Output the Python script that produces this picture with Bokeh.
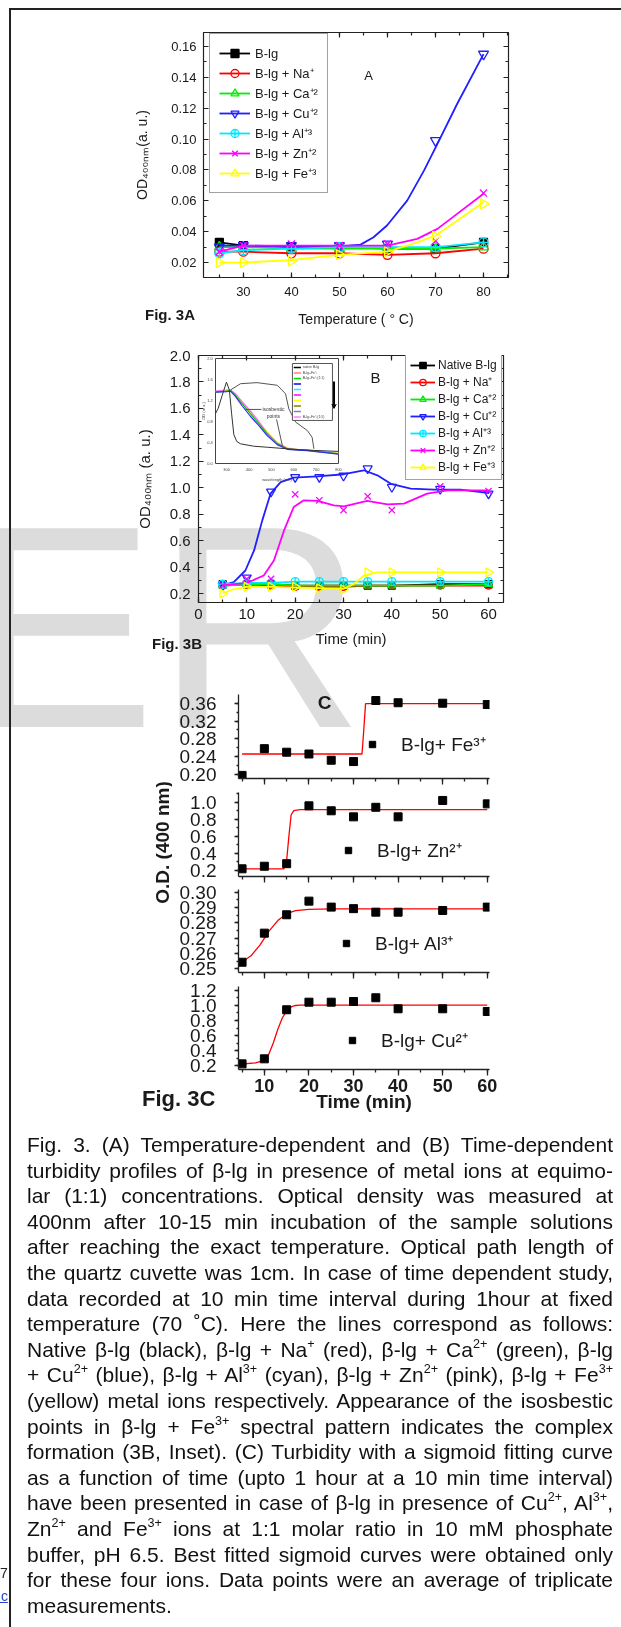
import numpy as np
from bokeh.plotting import figure
from bokeh.models import (Range1d, LinearAxis, Legend, LegendItem, Label, Div,
                          SingleIntervalTicker, NumeralTickFormatter, Arrow, VeeHead)
from bokeh.layouts import column, row
from bokeh.embed import file_html
from bokeh.resources import INLINE
from bokeh.core.properties import value

FONT = "Liberation Sans"
TXT = "#1a1a1a"

# ---------------- Fig. 3A data (temperature, OD) ----------------
temp_c = [25, 30, 40, 50, 60, 70, 80]
a_blg = [0.033, 0.031, 0.030, 0.030, 0.029, 0.029, 0.033]
a_na = [0.027, 0.027, 0.026, 0.026, 0.025, 0.026, 0.029]
a_ca = [0.030, 0.030, 0.029, 0.029, 0.029, 0.029, 0.030]
a_cu = [0.030, 0.031, 0.031, 0.031, 0.032, 0.099, 0.155]
a_al = [0.026, 0.028, 0.029, 0.030, 0.030, 0.030, 0.033]
a_zn = [0.027, 0.031, 0.032, 0.031, 0.032, 0.034, 0.065]
a_fe = [0.020, 0.020, 0.021, 0.025, 0.027, 0.037, 0.058]
# drawn (smoothed) lines
a_cu_line_t = [25, 30, 40, 50, 54.4, 57.1, 59.9, 64.1, 67.6, 70.4, 74.5, 80]
a_cu_line_v = [0.031, 0.031, 0.0304, 0.0304, 0.0316, 0.0364, 0.044, 0.0601, 0.0795, 0.0968, 0.1227, 0.155]
a_zn_line_t = [25, 30, 40, 50, 60, 66.2, 70.4, 74.5, 80]
a_zn_line_v = [0.027, 0.031, 0.031, 0.031, 0.031, 0.0353, 0.0418, 0.0515, 0.0645]
a_fe_line_t = [25, 30, 40, 50, 60, 66.2, 70, 74.5, 80]
a_fe_line_v = [0.020, 0.020, 0.0215, 0.025, 0.027, 0.033, 0.0375, 0.047, 0.059]

# ---------------- Fig. 3B data (time, OD) ----------------
time_min = [5, 10, 15, 20, 25, 30, 35, 40, 50, 60]
b_native = [0.27, 0.27, 0.27, 0.26, 0.26, 0.26, 0.26, 0.26, 0.27, 0.27]
b_na = [0.26, 0.27, 0.26, 0.25, 0.25, 0.25, 0.26, 0.26, 0.26, 0.26]
b_ca = [0.26, 0.27, 0.27, 0.26, 0.26, 0.26, 0.26, 0.26, 0.26, 0.27]
b_cu = [0.26, 0.32, 0.97, 1.08, 1.08, 1.09, 1.145, 1.005, 0.99, 0.955]
b_al = [0.27, 0.28, 0.28, 0.29, 0.29, 0.29, 0.29, 0.29, 0.29, 0.29]
b_zn = [0.26, 0.31, 0.31, 0.95, 0.905, 0.83, 0.935, 0.83, 1.01, 0.975]
b_fe = [0.20, 0.25, 0.25, 0.25, 0.24, 0.23, 0.36, 0.36, 0.36, 0.36]
b_cu_line_t = [4.9, 7.3, 9.7, 11.5, 13.2, 14.9, 17.0, 19.7, 24.6, 30.1, 34.2, 37.0, 39.8, 43.9, 48.7, 54.2, 60.1]
b_cu_line_v = [0.261, 0.286, 0.374, 0.526, 0.753, 0.955, 1.043, 1.076, 1.086, 1.102, 1.132, 1.094, 1.03, 0.993, 0.986, 0.986, 0.96]
b_zn_line_t = [4.9, 10.1, 13.5, 15.6, 17.7, 19.7, 21.8, 24.6, 28.0, 30.1, 34.9, 39.1, 42.5, 47.3, 51.5, 60.1]
b_zn_line_v = [0.261, 0.281, 0.336, 0.45, 0.677, 0.854, 0.905, 0.9, 0.867, 0.859, 0.9, 0.874, 0.88, 0.955, 0.98, 0.98]
b_fe_line_t = [5, 7, 10, 15, 20, 25, 30, 32.2, 34.2, 37, 40, 50, 60]
b_fe_line_v = [0.20, 0.23, 0.25, 0.25, 0.245, 0.24, 0.236, 0.273, 0.336, 0.36, 0.36, 0.36, 0.36]

# ---------------- Fig. 3B inset (wavelength, absorbance) ----------------
ins_wl = [250, 300, 317, 339, 369, 406, 444, 481, 526, 571, 620, 660, 720, 800]
ins_green = [1.36, 1.38, 1.39, 1.30, 1.14, 0.95, 0.76, 0.56, 0.375, 0.28, 0.26, 0.25, 0.22, 0.185]
ins_blue = [1.36, 1.37, 1.38, 1.28, 1.10, 0.90, 0.72, 0.53, 0.36, 0.27, 0.255, 0.245, 0.215, 0.18]
ins_pink = [1.38, 1.40, 1.40, 1.33, 1.18, 1.00, 0.80, 0.58, 0.39, 0.29, 0.265, 0.255, 0.225, 0.19]
ins_yellow = [1.37, 1.39, 1.39, 1.31, 1.15, 0.97, 0.78, 0.60, 0.40, 0.30, 0.27, 0.26, 0.23, 0.20]
ins_native_wl = [250, 262, 280, 299, 312, 322, 332, 345, 362, 420, 481, 600, 688, 800]
ins_native = [0.95, 1.05, 1.30, 1.55, 1.40, 0.95, 0.55, 0.42, 0.375, 0.33, 0.31, 0.27, 0.25, 0.23]
ins_hump_wl = [317, 362, 436, 526, 563, 578, 608, 660, 682, 690]
ins_hump = [1.40, 1.52, 1.54, 1.49, 1.33, 1.04, 0.79, 0.63, 0.50, 0.28]
ins_xticks = [300, 400, 500, 600, 700, 800]
ins_yticks = [0.0, 0.4, 0.8, 1.2, 1.6, 2.0]
ins_leg_colors = ["#000000", "#ff8080", "#00dd00", "#0000ff", "#00ffff", "#ff00ff",
                  "#ffff00", "#808000", "#8080c0", "#ff80ff"]
ins_leg_labels = ["native B-lg", "B-lg+Fe⁺³", "B-lg+Fe⁺³(1:1)", "", "", "", "", "", "", "B-lg+Fe⁺³(1:5)"]

# ---------------- Fig. 3C data ----------------
c_time = [5, 10, 15, 20, 25, 30, 35, 40, 50, 60]
c_fe = [0.198, 0.258, 0.250, 0.246, 0.232, 0.229, 0.366, 0.361, 0.360, 0.357]
c_zn = [0.22, 0.25, 0.28, 0.957, 0.899, 0.828, 0.94, 0.828, 1.02, 0.98]
c_al = [0.2543, 0.2733, 0.2853, 0.2942, 0.2903, 0.2893, 0.2870, 0.2870, 0.2881, 0.2903]
c_cu = [0.222, 0.289, 0.943, 1.044, 1.044, 1.053, 1.103, 0.956, 0.956, 0.92]
# sigmoid fit curves
fe_fit_t = [5, 31.9, 32.3, 32.7, 60]
fe_fit_v = [0.246, 0.246, 0.30, 0.359, 0.359]
zn_fit_t = [5, 14.4, 15.0, 15.5, 16.0, 16.6, 18.0, 60]
zn_fit_v = [0.22, 0.22, 0.32, 0.6, 0.85, 0.9, 0.912, 0.912]
al_fit_t = [5, 7, 9, 11, 13, 15, 17, 20, 25, 60]
al_fit_v = [0.2545, 0.2585, 0.2655, 0.2745, 0.2815, 0.2860, 0.2880, 0.2888, 0.2891, 0.2892]
cu_fit_t = [5, 8, 10, 11, 12, 13, 14, 15, 16, 17, 18, 60]
cu_fit_v = [0.22, 0.235, 0.27, 0.35, 0.5, 0.68, 0.83, 0.93, 0.98, 1.0, 1.005, 1.005]

caption_lines = [
    "Fig. 3. (A) Temperature-dependent and (B) Time-dependent",
    "turbidity profiles of β-lg in presence of metal ions at equimo-",
    "lar (1:1) concentrations. Optical density was measured at",
    "400nm after 10-15 min incubation of the sample solutions",
    "after reaching the exact temperature. Optical path length of",
    "the quartz cuvette was 1cm. In case of time dependent study,",
    "data recorded at 10 min time interval during 1hour at fixed",
    "temperature (70 ˚C). Here the lines correspond as follows:",
    "Native β-lg (black), β-lg + Na<sup>+</sup> (red), β-lg + Ca<sup>2+</sup> (green), β-lg",
    "+ Cu<sup>2+</sup> (blue), β-lg + Al<sup>3+</sup> (cyan), β-lg + Zn<sup>2+</sup> (pink), β-lg + Fe<sup>3+</sup>",
    "(yellow) metal ions respectively. Appearance of the isosbestic",
    "points in β-lg + Fe<sup>3+</sup> spectral pattern indicates the complex",
    "formation (3B, Inset). (C) Turbidity with a sigmoid fitting curve",
    "as a function of time (upto 1 hour at a 10 min time interval)",
    "have been presented in case of β-lg in presence of Cu<sup>2+</sup>, Al<sup>3+</sup>,",
    "Zn<sup>2+</sup> and Fe<sup>3+</sup> ions at 1:1 molar ratio in 10 mM phosphate",
    "buffer, pH 6.5. Best fitted sigmoid curves were obtained only",
    "for these four ions. Data points were an average of triplicate",
    "measurements.",
]

COL = dict(blg="#000000", na="#ff0000", ca="#00ee00", cu="#2020ff",
           al="#00e8ff", zn="#ff00ff", fe="#ffff00")


# ---------------- helpers ----------------
def make_fig(w, h, xr, yr, ml, mr, mt, mb, axes=True):
    kw = {}
    if not axes:
        kw = dict(x_axis_location=None, y_axis_location=None)
    p = figure(width=w, height=h, x_range=Range1d(*xr), y_range=Range1d(*yr),
               output_backend="svg", toolbar_location=None,
               min_border_left=ml, min_border_right=mr, min_border_top=mt,
               min_border_bottom=mb, **kw)
    p.grid.visible = False
    p.background_fill_alpha = 0
    p.border_fill_alpha = 0
    if "frame_align" in p.properties():
        p.frame_align = False
    return p


def style_ax(ax, size, standoff, t_in, t_out, m_in, m_out, bold=False, lw=1.2):
    ax.major_label_text_font = FONT
    ax.major_label_text_font_size = f"{size}px"
    ax.major_label_text_font_style = "bold" if bold else "normal"
    ax.major_label_text_color = TXT
    ax.major_label_standoff = standoff
    ax.major_tick_in = t_in
    ax.major_tick_out = t_out
    ax.minor_tick_in = m_in
    ax.minor_tick_out = m_out
    for a in ("axis_line", "major_tick_line", "minor_tick_line"):
        setattr(ax, a + "_color", "#222222")
        setattr(ax, a + "_width", lw)
    ax.axis_label_text_font = FONT
    ax.axis_label_text_font_style = "normal"
    ax.axis_label_text_color = TXT


def add_label(p, FL, FB, px, py, text, size, bold=False, align="left",
              baseline="middle", angle=0.0, color=TXT):
    p.add_layout(Label(x=px - FL, y=FB - py, x_units="screen", y_units="screen",
                       text=text, text_font=FONT, text_font_size=f"{size}px",
                       text_font_style="bold" if bold else "normal",
                       text_align=align, text_baseline=baseline, angle=angle,
                       text_color=color))


def series(p, x, y, lx, ly, color, marker, size, lw=1.8, angle=0.0):
    ln = p.line(lx, ly, line_color=color, line_width=lw)
    filled = marker == "square"
    sc = p.scatter(x, y, marker=marker, size=size, line_color=color,
                   fill_color="black" if filled else "white", fill_alpha=1 if filled else 0,
                   line_width=1.3, angle=angle)
    return [ln, sc]


def box_axes(p, xint, yint, size):
    for loc, tick in (("above", xint), ("right", yint)):
        ax = LinearAxis(ticker=SingleIntervalTicker(interval=tick, num_minor_ticks=2))
        style_ax(ax, size, 2, 5, 0, 3, 0)
        ax.major_label_text_color = None
        p.add_layout(ax, loc)


PAGE_W = 621   # layout starts at the page's top-left corner

# ================= Fig. 3A =================
A_FL, A_FR, A_FT, A_FB = 203, 508, 32, 277
pa = make_fig(PAGE_W, 330, (21.7, 85.2), (0.0103, 0.169),
              A_FL, PAGE_W - A_FR, A_FT, 330 - A_FB)
pa.outline_line_color = "#222222"
pa.xaxis.ticker = SingleIntervalTicker(interval=10, num_minor_ticks=2)
pa.yaxis.ticker = SingleIntervalTicker(interval=0.02, num_minor_ticks=2)
pa.yaxis.formatter = NumeralTickFormatter(format="0.00")
style_ax(pa.xaxis[0], 13, 9, 5, 0, 3, 0)
style_ax(pa.yaxis[0], 13, 7, 5, 0, 3, 0)
pa.xaxis.axis_label = "Temperature ( ° C)"
pa.xaxis.axis_label_text_font_size = "14px"
pa.xaxis.axis_label_standoff = 12
pa.yaxis.axis_label = "OD₄₀₀ₙₘ(a. u.)"
pa.yaxis.axis_label_text_font_size = "14px"
pa.yaxis.axis_label_standoff = 18
box_axes(pa, 10, 0.02, 9)

ra = []
ra.append(("B-lg", series(pa, temp_c, a_blg, temp_c, a_blg, COL["blg"], "square", 8)))
ra.append(("B-lg + Na⁺", series(pa, temp_c, a_na, temp_c, a_na, COL["na"], "circle", 9)))
ra.append(("B-lg + Ca⁺²", series(pa, temp_c, a_ca, temp_c, a_ca, COL["ca"], "triangle", 10)))
ra.append(("B-lg + Cu⁺²", series(pa, temp_c, a_cu, a_cu_line_t, a_cu_line_v, COL["cu"], "inverted_triangle", 10)))
ra.append(("B-lg + Al⁺³", series(pa, temp_c, a_al, temp_c, a_al, COL["al"], "circle_cross", 9)))
ra.append(("B-lg + Zn⁺²", series(pa, temp_c, a_zn, a_zn_line_t, a_zn_line_v, COL["zn"], "x", 10)))
ra.append(("B-lg + Fe⁺³", series(pa, temp_c, a_fe, a_fe_line_t, a_fe_line_v, COL["fe"], "triangle", 10, angle=-np.pi / 2)))
leg_a = Legend(items=[LegendItem(label=l, renderers=r) for l, r in ra], location=(6, 84),
               label_text_font=FONT, label_text_font_size="13px", label_text_color=TXT,
               glyph_width=31, glyph_height=20, label_height=20, label_standoff=5,
               padding=9, spacing=0, margin=0, border_line_color="#444444",
               border_line_width=1.5, background_fill_color="white", background_fill_alpha=1)
pa.add_layout(leg_a)
add_label(pa, A_FL, A_FB, 368, 75, "A", 13, align="center")

# ================= Fig. 3B =================
B_TOP = 330
B_FL, B_FR, B_FT, B_FB = 198, 503, 355, 602
pb = make_fig(PAGE_W, 325, (0, 63.1), (0.132, 2.0),
              B_FL, PAGE_W - B_FR, B_FT - B_TOP, B_TOP + 325 - B_FB)
pb.outline_line_color = "#222222"
pb.xaxis.ticker = SingleIntervalTicker(interval=10, num_minor_ticks=2)
pb.yaxis.ticker = SingleIntervalTicker(interval=0.2, num_minor_ticks=2)
pb.yaxis.formatter = NumeralTickFormatter(format="0.0")
style_ax(pb.xaxis[0], 15, 6, 5, 0, 3, 0)
style_ax(pb.yaxis[0], 15, 8, 5, 0, 3, 0)
pb.xaxis.axis_label = "Time (min)"
pb.xaxis.axis_label_text_font_size = "15px"
pb.xaxis.axis_label_standoff = 8
pb.yaxis.axis_label = "OD₄₀₀ₙₘ (a. u.)"
pb.yaxis.axis_label_text_font_size = "15px"
pb.yaxis.axis_label_standoff = 14
box_axes(pb, 10, 0.2, 9)

rb = []
rb.append(("Native B-lg", series(pb, time_min, b_native, time_min, b_native, COL["blg"], "square", 7)))
rb.append(("B-lg + Na⁺", series(pb, time_min, b_na, time_min, b_na, COL["na"], "circle", 7)))
rb.append(("B-lg + Ca⁺²", series(pb, time_min, b_ca, time_min, b_ca, COL["ca"], "triangle", 8)))
rb.append(("B-lg + Cu⁺²", series(pb, time_min, b_cu, b_cu_line_t, b_cu_line_v, COL["cu"], "inverted_triangle", 9)))
rb.append(("B-lg + Al⁺³", series(pb, time_min, b_al, time_min, b_al, COL["al"], "circle_cross", 8)))
rb.append(("B-lg + Zn⁺²", series(pb, time_min, b_zn, b_zn_line_t, b_zn_line_v, COL["zn"], "x", 9)))
rb.append(("B-lg + Fe⁺³", series(pb, time_min, b_fe, b_fe_line_t, b_fe_line_v, COL["fe"], "triangle", 9, angle=-np.pi / 2)))
leg_b = Legend(items=[LegendItem(label=l, renderers=r) for l, r in rb], location=(207, 122),
               label_text_font=FONT, label_text_font_size="12px", label_text_color=TXT,
               glyph_width=25, glyph_height=16, label_height=16, label_standoff=3,
               padding=4, spacing=0, margin=0, border_line_color="#444444",
               border_line_width=1.5, background_fill_color="white", background_fill_alpha=1)
pb.add_layout(leg_b)
add_label(pb, B_FL, B_FB, 375, 377, "B", 15, align="center")

# ---- inset (own ranges mapped onto the inset box) ----
ins_px = dict(l=215, r=338, t=358, b=463)
ins_x = (250, 800)
ins_y = (0.0, 2.0)
sx = (ins_x[1] - ins_x[0]) / (ins_px["r"] - ins_px["l"])
sy = (ins_y[1] - ins_y[0]) / (ins_px["b"] - ins_px["t"])
pb.extra_x_ranges = {"ix": Range1d(ins_x[0] - (ins_px["l"] - B_FL) * sx,
                                   ins_x[1] + (B_FR - ins_px["r"]) * sx)}
pb.extra_y_ranges = {"iy": Range1d(ins_y[0] - (B_FB - ins_px["b"]) * sy,
                                   ins_y[1] + (ins_px["t"] - B_FT) * sy)}
IR = dict(x_range_name="ix", y_range_name="iy")
pb.quad(left=[ins_x[0]], right=[ins_x[1]], bottom=[ins_y[0]], top=[ins_y[1]],
        fill_color="white", line_color="#444444", line_width=1, **IR)
for ys, c in ((ins_yellow, "#ffee00"), (ins_pink, "#ff66ff"), (ins_green, "#00cc00"), (ins_blue, "#3030ff")):
    pb.line(ins_wl, ys, line_color=c, line_width=1.2, **IR)
pb.line(ins_native_wl, ins_native, line_color="#333333", line_width=1, **IR)
pb.line(ins_hump_wl, ins_hump, line_color="#555555", line_width=1, **IR)
pb.segment(x0=[380, 523], y0=[1.03, 0.84], x1=[455, 550], y1=[1.03, 0.32],
           line_color="#555555", line_width=1, **IR)
pb.text(x=[509, 509], y=[1.03, 0.90], text=["isosbestic", "points"],
        text_font=value(FONT), text_font_size="5px", text_align="center",
        text_baseline="middle", text_color="#333333", **IR)
pb.text(x=ins_xticks, y=[-0.12] * len(ins_xticks), text=[str(v) for v in ins_xticks],
        text_font=value(FONT), text_font_size="4px", text_align="center",
        text_baseline="middle", text_color="#444444", **IR)
pb.text(x=[238] * len(ins_yticks), y=ins_yticks, text=[f"{v:.1f}" for v in ins_yticks],
        text_font=value(FONT), text_font_size="4px", text_align="right",
        text_baseline="middle", text_color="#444444", **IR)
pb.text(x=[525], y=[-0.3], text=["wavelength (nm)"], text_font=value(FONT),
        text_font_size="4px", text_align="center", text_baseline="middle",
        text_color="#444444", **IR)
pb.text(x=[195], y=[1.0], text=["OD (a. u.)"], angle=[np.pi / 2], text_font=value(FONT),
        text_font_size="4px", text_align="center", text_baseline="middle",
        text_color="#444444", **IR)
pb.quad(left=[594], right=[773], bottom=[0.82], top=[1.905], fill_color="white",
        line_color="#555555", line_width=1, **IR)
leg_y = [1.83 - i * 0.105 for i in range(len(ins_leg_colors))]
pb.segment(x0=[600] * len(leg_y), y0=leg_y, x1=[632] * len(leg_y), y1=leg_y,
           line_color=ins_leg_colors, line_width=1.5, **IR)
pb.text(x=[640] * len(leg_y), y=leg_y, text=ins_leg_labels, text_font=value(FONT),
        text_font_size="3.5px", text_baseline="middle", text_color="#444444", **IR)
pb.add_layout(Arrow(end=VeeHead(size=4, fill_color="black", line_color="black"),
                    x_start=780, y_start=1.56, x_end=780, y_end=1.05,
                    line_color="black", line_width=2, **IR))


# ================= Fig. 3C =================
def c_fig(w, h, ml, mt, mb, yr, yint, fmt, last=False):
    p = make_fig(w, h, (4.2, 60.5), yr, ml, 132, mt, mb)
    p.outline_line_color = None
    p.xaxis.ticker = SingleIntervalTicker(interval=10, num_minor_ticks=2)
    p.yaxis.ticker = SingleIntervalTicker(interval=yint, num_minor_ticks=2)
    p.yaxis.formatter = NumeralTickFormatter(format=fmt)
    style_ax(p.yaxis[0], 19, 18, 0, 4, 0, 2, lw=1.3)
    style_ax(p.xaxis[0], 18, 3, 0, 6, 0, 3, bold=True, lw=1.3)
    if not last:
        p.xaxis.major_label_text_font_size = "1px"
        p.xaxis.major_label_text_color = None
        p.xaxis.major_label_standoff = 0
    return p


def c_series(p, y, ft, fv, label, loc):
    p.line(ft, fv, line_color="#ff0000", line_width=1.3)
    sc = p.scatter(c_time, y, marker="square", size=8, fill_color="black", line_color="black")
    leg = Legend(items=[LegendItem(label=label, renderers=[sc])], location=loc,
                 label_text_font=FONT, label_text_font_size="19px", label_text_color=TXT,
                 glyph_width=16, glyph_height=16, label_height=20, label_standoff=21,
                 padding=0, spacing=0, margin=0, border_line_color=None,
                 background_fill_alpha=0)
    p.add_layout(leg)


C_FL = 238
C_SPLIT = 172
CW = PAGE_W - C_SPLIT
c1 = c_fig(CW, 133, C_FL - C_SPLIT, 39, 10, (0.191, 0.3795), 0.04, "0.00")
c_series(c1, c_fe, fe_fit_t, fe_fit_v, "B-lg+ Fe³⁺", (126, 21))
add_label(c1, C_FL, 778, 324, 702, "C", 19, bold=True, align="center")

c2 = c_fig(CW, 97, C_FL - C_SPLIT, 4, 9, (0.13, 1.113), 0.2, "0.0")
c_series(c2, c_zn, zn_fit_t, zn_fit_v, "B-lg+ Zn²⁺", (102, 13))

c3 = c_fig(CW, 97, C_FL - C_SPLIT, 4, 10, (0.2476, 0.3018), 0.01, "0.00")
c_series(c3, c_al, al_fit_t, al_fit_v, "B-lg+ Al³⁺", (100, 16))

c4 = c_fig(PAGE_W, 133, C_FL, 4, 46, (0.147, 1.253), 0.2, "0.0", last=True)
c_series(c4, c_cu, cu_fit_t, cu_fit_v, "B-lg+ Cu²⁺", (106, 16))
c4.xaxis.axis_label = "Time (min)"
c4.xaxis.axis_label_text_font_size = "19px"
c4.xaxis.axis_label_text_font_style = "bold"
c4.xaxis.axis_label_standoff = -4

leftc = make_fig(C_SPLIT, 327, (0, 1), (0, 1), 0, 0, 0, 0, axes=False)
leftc.outline_line_color = None
add_label(leftc, 0, 982, 162, 842, "O.D. (400 nm)", 19, bold=True, align="center",
          angle=np.pi / 2)


# ================= caption + page decorations (fixed page positions) =================
def fixed(left, top, html, style):
    return f'<div style="position:fixed;left:{left}px;top:{top}px;{style}">{html}</div>'


deco = (
    fixed(-37, 482, "ER", "font-family:'Liberation Sans',Arial,sans-serif;font-size:289px;"
          "line-height:289px;color:#dcdcdc;z-index:-1;white-space:nowrap;")
    + fixed(9, 8, "", "width:612px;height:2px;background:#222;z-index:3;")
    + fixed(9, 8, "", "width:2px;height:1619px;background:#222;z-index:3;")
    + fixed(145, 306, "Fig. 3A", "font:bold 15px/18px 'Liberation Sans',Arial;color:#1a1a1a;white-space:nowrap;z-index:3;")
    + fixed(152, 635, "Fig. 3B", "font:bold 15px/18px 'Liberation Sans',Arial;color:#1a1a1a;white-space:nowrap;z-index:3;")
    + fixed(142, 1086, "Fig. 3C", "font:bold 22px/26px 'Liberation Sans',Arial;color:#1a1a1a;white-space:nowrap;z-index:3;")
    + fixed(0, 1565, "7", "font:14px/16px 'Liberation Sans',Arial;color:#222;white-space:nowrap;z-index:3;")
    + fixed(-3, 1588, ".c", "font:14px/16px 'Liberation Sans',Arial;color:#2244cc;text-decoration:underline;white-space:nowrap;z-index:3;")
)

rows_html = "".join(
    f'<div style="text-align:justify;text-align-last:justify;white-space:nowrap;">{t}</div>'
    for t in caption_lines[:-1]) + f'<div>{caption_lines[-1]}</div>'
caption = Div(
    text=(deco
          + '<div style="box-sizing:content-box;font-family:\'Liberation Sans\',Arial,sans-serif;'
          'font-size:21px;line-height:25.6px;color:#111;width:586px;padding-left:22px;'
          'padding-top:12px;">'
          '<style>sup{font-size:0.6em;line-height:0;vertical-align:0.7em;}</style>'
          + rows_html + '</div>'),
    width=PAGE_W, height=504)

page = column(pa, pb, row(leftc, column(c1, c2, c3, spacing=0), spacing=0), c4, caption,
              spacing=0)

open("out.html", "w").write(file_html(page, INLINE))
